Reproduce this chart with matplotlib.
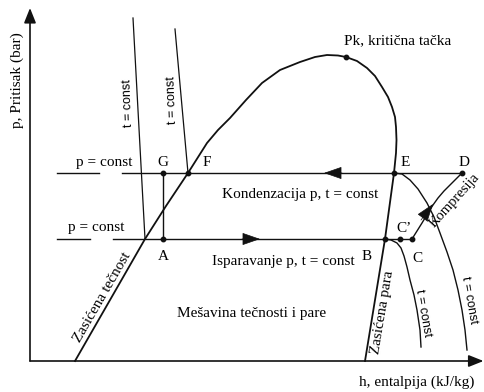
import matplotlib
matplotlib.use("Agg")
import matplotlib.pyplot as plt

SERIF = "Liberation Serif"
SANS = "Liberation Sans"

# Saturation dome (liquid line -> critical point -> vapour line), h and p in schematic units
dome_h = [45, 80, 115, 136, 158, 177, 188, 200, 216, 232, 250, 270, 285, 297, 308, 316,
          327, 337, 345, 352, 358, 362, 365, 366, 366.5, 366, 365, 364, 355, 345, 335]
dome_p = [0, 61, 122, 155, 188, 218, 231, 243, 261, 278, 291, 299, 304, 306, 305.5, 304,
          300, 293, 285, 274, 264, 254, 244, 234, 221, 208, 198, 188, 122, 61, 0]

# Isotherms in the liquid region
iso1_h, iso1_p = [103, 115], [343, 122]
iso2_h, iso2_p = [145, 158], [332, 188]

# Isotherms in the superheated region
iso3_h = [364, 372, 380, 388, 397, 404, 410, 417, 423, 428, 432, 435, 437]
iso3_p = [188, 187, 181, 172, 158, 144, 128, 109, 91, 71, 51, 31, 11]
iso4_h = [355, 361, 367, 371, 374, 377, 380, 384, 387, 390, 391]
iso4_p = [122, 121, 118, 113, 105, 94, 81, 66, 51, 31, 14]

# Compression C -> D
comp_h = [382, 387, 392, 398, 403, 408, 414, 420, 426, 432]
comp_p = [122, 130, 138, 148, 156, 163, 170, 176, 182, 188]

# Pressure levels
p_high, p_low = 188, 122

# Cycle states
states = {"G": (133, 188), "F": (158, 188), "A": (133, 122), "E": (364, 188),
          "D": (432, 188), "B": (355, 122), "C\u2019": (370, 122), "C": (382, 122)}
crit = (316, 304)

fig = plt.figure(figsize=(4.84, 3.92), dpi=100)
ax = fig.add_axes([0, 0, 1, 1])
ax.set_xlim(-30, 454)
ax.set_ylim(-31, 361)
ax.axis("off")

k = "#111111"
# coordinate axes with arrow heads
ax.annotate("", xy=(0, 353), xytext=(0, 0),
            arrowprops=dict(arrowstyle="-|>,head_length=0.9,head_width=0.36",
                            color=k, lw=1.2, shrinkA=0, shrinkB=0))
ax.annotate("", xy=(453.5, 0), xytext=(0, 0),
            arrowprops=dict(arrowstyle="-|>,head_length=0.9,head_width=0.36",
                            color=k, lw=1.2, shrinkA=0, shrinkB=0))

ax.plot(dome_h, dome_p, color=k, lw=1.3, solid_joinstyle="round")
for hh, pp in [(iso1_h, iso1_p), (iso2_h, iso2_p)]:
    ax.plot(hh, pp, color=k, lw=0.9)
ax.plot(iso3_h, iso3_p, color=k, lw=1.0)
ax.plot(iso4_h, iso4_p, color=k, lw=1.0)
ax.plot(comp_h, comp_p, color=k, lw=1.0)

# isobars
ax.plot([27, 69], [p_high, p_high], color=k, lw=1.0)
ax.plot([92, states["D"][0]], [p_high, p_high], color=k, lw=1.0)
ax.plot([27, 60], [p_low, p_low], color=k, lw=1.0)
ax.plot([83, states["C"][0]], [p_low, p_low], color=k, lw=1.0)
# throttling G -> A
ax.plot([states["G"][0], states["A"][0]], [p_high, p_low], color=k, lw=1.0)

# direction arrows
head = dict(arrowstyle="-|>,head_length=1.15,head_width=0.4", color=k, lw=0.5,
            shrinkA=0, shrinkB=0)
ax.annotate("", xy=(294, p_high), xytext=(312, p_high), arrowprops=head)
ax.annotate("", xy=(230, p_low), xytext=(212, p_low), arrowprops=head)
ax.annotate("", xy=(403, 157), xytext=(391, 141), arrowprops=head)

# state points
for name, (hh, pp) in states.items():
    ax.plot(hh, pp, "o", color=k, ms=3.2)
ax.plot(*crit, "o", color=k, ms=3.2)

fs = 11
lbl = {"G": (133, 199), "F": (177, 199), "E": (375, 199), "D": (434, 199),
       "A": (133, 105), "B": (337, 105), "C": (387, 103), "C\u2019": (374, 133)}
for name, (hh, pp) in lbl.items():
    ax.text(hh, pp, name, family=SERIF, fontsize=fs, ha="center", va="center")

ax.text(-13, 281, "p, Pritisak (bar)", family=SERIF, fontsize=fs, rotation=90,
        ha="center", va="center")
ax.text(387, -21, "h, entalpija (kJ/kg)", family=SERIF, fontsize=fs,
        ha="center", va="center")
ax.text(368, 320, "Pk, kriti\u010dna ta\u010dka", family=SERIF, fontsize=fs,
        ha="center", va="center")
ax.text(74, 199, "p = const", family=SERIF, fontsize=fs, ha="center", va="center")
ax.text(66, 134, "p = const", family=SERIF, fontsize=fs, ha="center", va="center")
ax.text(270, 167, "Kondenzacija p, t = const", family=SERIF, fontsize=fs,
        ha="center", va="center")
ax.text(253, 100, "Isparavanje p, t = const", family=SERIF, fontsize=fs,
        ha="center", va="center")
ax.text(222, 48, "Me\u0161avina te\u010dnosti i pare", family=SERIF, fontsize=fs,
        ha="center", va="center")
ax.text(72, 64, "Zasi\u0107ena te\u010dnost", family=SERIF, fontsize=fs, rotation=60,
        ha="center", va="center", rotation_mode="anchor")
ax.text(353, 49, "Zasi\u0107ena para", family=SERIF, fontsize=fs, rotation=80.5,
        ha="center", va="center", rotation_mode="anchor")
ax.text(424.5, 160.5, "Kompresija", family=SERIF, fontsize=10.5, rotation=48,
        ha="center", va="center", rotation_mode="anchor")

sfs = 9
ax.text(98, 258, "t = const", family=SANS, fontsize=sfs, rotation=92,
        ha="center", va="center", rotation_mode="anchor")
ax.text(142, 261, "t = const", family=SANS, fontsize=sfs, rotation=92,
        ha="center", va="center", rotation_mode="anchor")
ax.text(393, 48, "t = const", family=SANS, fontsize=sfs, rotation=-80,
        ha="center", va="center", rotation_mode="anchor")
ax.text(439, 61, "t = const", family=SANS, fontsize=sfs, rotation=-80,
        ha="center", va="center", rotation_mode="anchor")

fig.savefig("out.png", dpi=100, facecolor="white")
